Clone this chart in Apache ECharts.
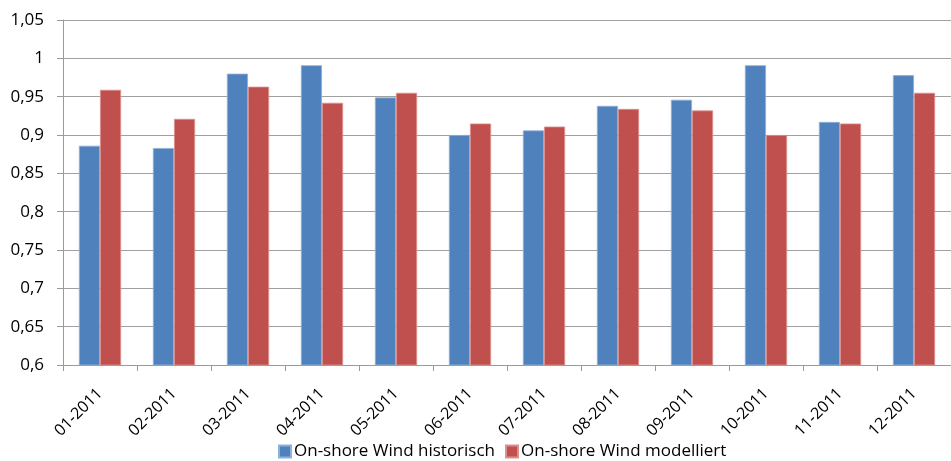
<!DOCTYPE html>
<html>
<head>
<meta charset="utf-8">
<script src="https://cdn.jsdelivr.net/npm/echarts@6/dist/echarts.min.js"></script>
<style>
  html, body { margin: 0; padding: 0; background: #fff; overflow: hidden; }
  #chart { width: 951px; height: 461px; }
</style>
</head>
<body>
<div id="chart"></div>
<script>
// Monthly values 2011
const months = ['01-2011','02-2011','03-2011','04-2011','05-2011','06-2011',
                '07-2011','08-2011','09-2011','10-2011','11-2011','12-2011'];
const historisch = [0.886, 0.883, 0.980, 0.991, 0.949, 0.900, 0.906, 0.938, 0.946, 0.991, 0.917, 0.978];
const modelliert = [0.959, 0.921, 0.963, 0.942, 0.955, 0.915, 0.911, 0.934, 0.932, 0.900, 0.915, 0.955];
const seriesNames = ['On-shore Wind historisch', 'On-shore Wind modelliert'];

const FONT = '"Open Sans", sans-serif';
const chart = echarts.init(document.getElementById('chart'), null, { renderer: 'canvas' });

chart.setOption({
  animation: false,
  color: ['#4F81BD', '#C0504D'],
  textStyle: { fontFamily: FONT, color: '#000' },
  grid: { left: 63, right: -8, top: 20, bottom: 96, containLabel: false },
  legend: {
    data: seriesNames,
    left: 273,
    top: 443,
    padding: [0, 5, 0, 5],
    itemWidth: 12,
    itemHeight: 12,
    itemGap: 10,
    icon: 'rect',
    textStyle: { fontFamily: FONT, fontSize: 17, color: '#000', padding: [0, 0, 0, -2] }
  },
  xAxis: {
    type: 'category',
    data: months,
    boundaryGap: true,
    axisLine: { lineStyle: { color: '#9a9a9a', width: 1 } },
    axisTick: { show: true, length: 6, lineStyle: { color: '#9a9a9a' } },
    axisLabel: {
      rotate: 45,
      interval: 0,
      margin: 26,
      fontFamily: FONT,
      fontSize: 16,
      color: '#000'
    }
  },
  yAxis: {
    type: 'value',
    min: 0.6,
    max: 1.05,
    interval: 0.05,
    axisLine: { show: true, lineStyle: { color: '#9a9a9a', width: 1 } },
    axisTick: { show: true, length: 6, lineStyle: { color: '#9a9a9a' } },
    splitLine: { lineStyle: { color: '#a0a0a0', width: 1.2 } },
    axisLabel: {
      margin: 19,
      fontFamily: FONT,
      fontSize: 17,
      color: '#000',
      formatter: v => String(+v.toFixed(2)).replace('.', ',')
    }
  },
  series: [
    {
      name: seriesNames[0],
      type: 'bar',
      data: historisch,
      barGap: '0%',
      barCategoryGap: '43%',
      itemStyle: { color: '#4F81BD', borderColor: '#8fb0d9', borderWidth: 0.8 }
    },
    {
      name: seriesNames[1],
      type: 'bar',
      data: modelliert,
      barGap: '0%',
      barCategoryGap: '43%',
      itemStyle: { color: '#C0504D', borderColor: '#dc8f8c', borderWidth: 0.8 }
    }
  ]
});
</script>
</body>
</html>
